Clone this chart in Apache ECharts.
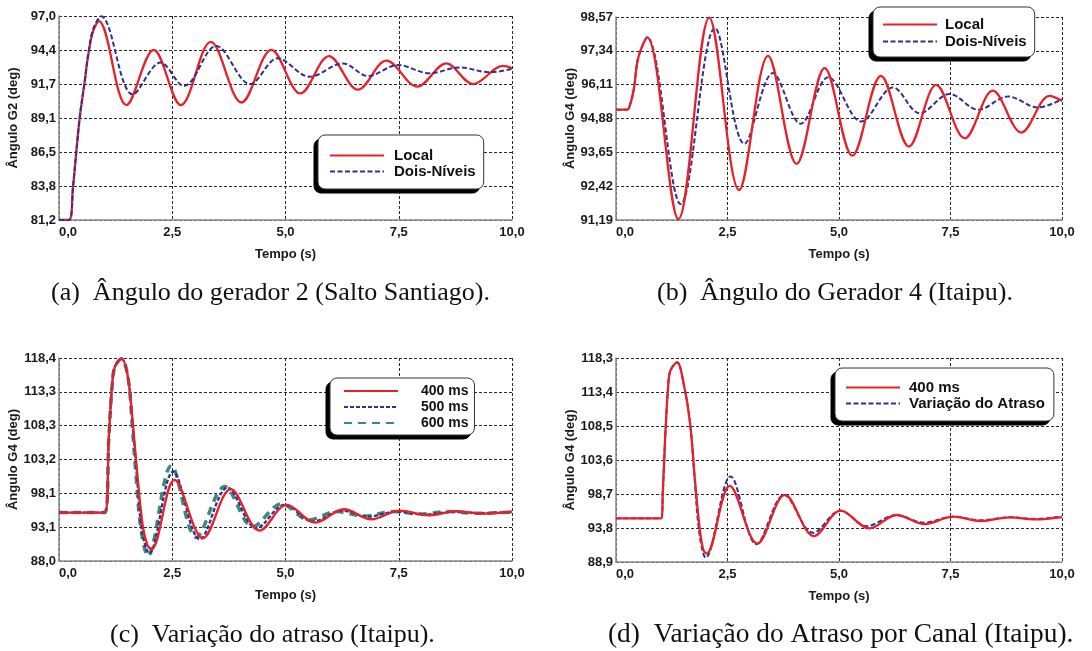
<!DOCTYPE html>
<html>
<head>
<meta charset="utf-8">
<script src="https://cdn.jsdelivr.net/npm/echarts@6/dist/echarts.min.js"></script>
<style>
  html, body { margin: 0; padding: 0; background: #ffffff; }
  #chart { width: 1092px; height: 651px; }
</style>
</head>
<body>
<div id="chart"></div>
<script>
// Time axis (s)
const timeMin = 0, timeMax = 10, timeStep = 2.5;

// Y-axis ranges: [min, max, decimals] per panel
const yRangeA = [81.2, 97.0, 1];
const yRangeB = [91.19, 98.57, 2];
const yRangeC = [88.0, 118.4, 1];
const yRangeD = [88.9, 118.3, 1];

// (a) Generator 2 angle — [t, deg]
const localA = [[0,81.2],[0.22,81.2],[0.31,83.8],[0.38,86.4],[0.46,89.2],[0.57,92.0],[0.64,93.85],[0.75,95.8],[0.88,96.6],[1.49,90.1],[2.09,94.37],[2.69,90.1],[3.35,95.0],[4.03,90.3],[4.69,94.37],[5.33,91.0],[5.96,93.9],[6.6,91.3],[7.23,93.54],[7.91,91.53],[8.55,93.33],[9.14,91.73],[9.8,93.13],[10,92.95]];
const doisNiveisA = [[0,81.2],[0.22,81.2],[0.31,83.8],[0.38,86.4],[0.46,89.2],[0.57,92.0],[0.64,93.9],[0.75,95.95],[0.93,96.98],[1.63,90.93],[2.24,93.39],[2.76,91.58],[3.47,94.68],[4.22,91.73],[4.83,93.72],[5.53,92.3],[6.27,93.33],[6.82,92.35],[7.48,93.2],[8.18,92.56],[8.84,93.02],[9.51,92.64],[10,92.9]];

// (b) Generator 4 angle
const localB = [[0,95.2],[0.24,95.2],[0.3,95.3],[0.4,95.95],[0.5,97.1],[0.7,97.83],[1.4,91.22],[2.09,98.55],[2.76,92.28],[3.41,97.16],[4.05,93.23],[4.68,96.71],[5.3,93.53],[5.94,96.43],[6.57,93.86],[7.18,96.1],[7.82,94.16],[8.45,95.89],[9.09,94.37],[9.72,95.7],[10,95.52]];
const doisNiveisB = [[0,95.2],[0.24,95.2],[0.3,95.3],[0.4,95.95],[0.5,97.1],[0.7,97.83],[1.45,91.77],[2.22,98.17],[2.88,93.96],[3.52,96.53],[4.14,94.69],[4.76,96.38],[5.5,94.77],[6.21,96.01],[6.81,95.07],[7.48,95.77],[8.12,95.2],[8.79,95.68],[9.46,95.28],[10,95.58]];

// (c) Delay variation
const delay400C = [[0,95.25],[1.01,95.25],[1.1,106.5],[1.17,114.0],[1.23,117.0],[1.38,118.3],[1.52,115.6],[1.63,108.6],[1.74,100.2],[1.85,93.2],[1.95,90.4],[2.04,89.75],[2.55,100.15],[3.18,91.4],[3.79,98.75],[4.43,92.55],[5.03,96.4],[5.66,93.75],[6.29,95.75],[6.89,94.25],[7.52,95.55],[8.15,94.85],[8.77,95.45],[9.36,95.1],[10,95.4]];
const delay500C = [[0,95.25],[1.01,95.25],[1.1,106.5],[1.17,114.0],[1.23,117.0],[1.38,118.3],[1.52,115.6],[1.62,108.8],[1.72,100.6],[1.83,92.6],[1.99,89.15],[2.52,101.4],[3.11,91.25],[3.72,99.0],[4.36,92.9],[4.98,96.4],[5.61,93.9],[6.23,95.55],[6.82,94.65],[7.45,95.4],[8.07,94.95],[8.7,95.35],[9.32,95.15],[10,95.35]];
const delay600C = [[0,95.25],[1.01,95.25],[1.1,106.5],[1.17,114.0],[1.23,117.0],[1.38,118.3],[1.52,115.6],[1.61,109.0],[1.7,100.8],[1.81,92.8],[1.96,88.75],[2.48,102.25],[3.03,91.55],[3.66,99.15],[4.28,93.15],[4.91,96.55],[5.52,94.15],[6.12,95.4],[6.75,94.75],[7.37,95.4],[8.0,95.05],[8.59,95.4],[9.2,95.15],[10,95.3]];

// (d) Per-channel delay variation
const delay400D = [[0,95.19],[1.01,95.19],[1.05,99.0],[1.1,106.5],[1.17,114.3],[1.22,116.5],[1.37,117.67],[1.52,114.5],[1.66,109.0],[1.77,100.7],[1.88,93.5],[1.96,90.6],[2.03,90.11],[2.55,99.88],[3.17,91.56],[3.79,98.57],[4.44,92.62],[5.04,96.3],[5.68,93.74],[6.29,95.67],[6.92,94.36],[7.56,95.43],[8.19,94.8],[8.83,95.33],[9.39,95.04],[10,95.38]];
const variacaoD = [[0,95.19],[1.01,95.19],[1.05,99.0],[1.1,106.5],[1.17,114.3],[1.22,116.5],[1.37,117.67],[1.52,114.5],[1.66,109.0],[1.76,101.2],[1.87,93.0],[2.01,89.53],[2.57,101.23],[3.15,91.46],[3.77,98.57],[4.42,93.1],[5.03,96.3],[5.62,94.07],[6.28,95.67],[6.9,94.56],[7.55,95.43],[8.2,94.9],[8.83,95.35],[9.4,95.1],[10,95.45]];

// Sub-figure captions
const captions = [
  '(a)\u2002Ângulo do gerador 2 (Salto Santiago).',
  '(b)\u2002Ângulo do Gerador 4 (Itaipu).',
  '(c)\u2002Variação do atraso (Itaipu).',
  '(d)\u2002Variação do Atraso por Canal (Itaipu).'
];

const RED = '#e8202a', NAVY = '#2e3192', TEAL = '#3a8c7a';
const SANS = 'Liberation Sans';
const comma = (v, d) => v.toFixed(d).replace('.', ',');

const grids = [
  { left: 59, top: 16, width: 453, height: 204 },
  { left: 616, top: 17, width: 446, height: 203 },
  { left: 59, top: 358, width: 453, height: 203 },
  { left: 616, top: 358, width: 446, height: 204 }
];

const splitStyle = { show: true, lineStyle: { color: '#2a2a2a', type: [3, 2], width: 1 } };
const axisLineStyle = { show: true, lineStyle: { color: '#8c8c8c', width: 1.6 } };
const tickFont = { fontFamily: SANS, fontWeight: 'bold', fontSize: 13, color: '#1a1a1a' };

const xAxes = grids.map((g, i) => ({
  type: 'value', gridIndex: i, min: timeMin, max: timeMax, interval: timeStep,
  name: 'Tempo (s)', nameLocation: 'middle', nameGap: 28,
  nameTextStyle: { fontFamily: SANS, fontWeight: 'bold', fontSize: 13, color: '#1a1a1a' },
  axisLine: axisLineStyle, axisTick: { show: false },
  axisLabel: Object.assign({ margin: 6, alignMinLabel: 'left', formatter: v => comma(v, 1) }, tickFont),
  splitLine: splitStyle
}));

const yRanges = [yRangeA, yRangeB, yRangeC, yRangeD];
const yNames = ['Ângulo G2 (deg)', 'Ângulo G4 (deg)', 'Ângulo G4 (deg)', 'Ângulo G4 (deg)'];
const yAxes = yRanges.map((r, i) => ({
  type: 'value', gridIndex: i, min: r[0], max: r[1], interval: (r[1] - r[0]) / 6 + 1e-9,
  name: yNames[i], nameLocation: 'middle', nameGap: 39,
  nameTextStyle: { fontFamily: SANS, fontWeight: 'bold', fontSize: 13, color: '#1a1a1a' },
  axisLine: axisLineStyle, axisTick: { show: false },
  axisLabel: Object.assign({ margin: 3, formatter: v => comma(v, r[2]) }, tickFont),
  splitLine: splitStyle
}));

function line(name, data, idx, color, width, type, z) {
  return {
    type: 'line', name, data, xAxisIndex: idx, yAxisIndex: idx,
    smooth: 0.35, symbol: 'none', showSymbol: false, z: z || 2,
    lineStyle: { color, width, type: type || 'solid' },
    itemStyle: { color }
  };
}

const series = [
  line('Local', localA, 0, RED, 2.3),
  line('Dois-Níveis', doisNiveisA, 0, NAVY, 2, [5, 2.5], 3),
  line('Dois-Níveis', doisNiveisB, 1, NAVY, 2, [5, 2.5], 2),
  line('Local', localB, 1, RED, 2.3, 'solid', 3),
  line('600 ms', delay600C, 2, TEAL, 3.5, [8, 6], 2),
  line('500 ms', delay500C, 2, NAVY, 2.3, [4, 2], 3),
  line('400 ms', delay400C, 2, RED, 2.3, 'solid', 4),
  line('Variação do Atraso', variacaoD, 3, NAVY, 2, [5, 2.5], 2),
  line('400 ms', delay400D, 3, RED, 2.3, 'solid', 3)
];

// Legend boxes: the white bordered box, plus a black copy offset down-left as a hard shadow
const legendSpecs = [
  { left: 318, top: 135, names: ['Local', 'Dois-Níveis'], pad: [13, 8, 10, 11], gap: 1, fontSize: 15, textGap: 5 },
  { left: 873, top: 7, names: ['Local', 'Dois-Níveis'], pad: [10, 8, 8, 9], gap: 2, fontSize: 15, textGap: 3 },
  { left: 330, top: 378, names: ['400 ms', '500 ms', '600 ms'], pad: [6, 6, 5, 13], gap: 2, fontSize: 14, textGap: 18 },
  { left: 835, top: 368, names: ['400 ms', 'Variação do Atraso'], pad: [12, 9, 10, 10], gap: 1, fontSize: 15, textGap: 4 }
];

function legendBox(s, isShadow) {
  return {
    orient: 'vertical',
    left: s.left + (isShadow ? -4 : 0),
    top: s.top + (isShadow ? 4 : 0),
    data: s.names,
    z: isShadow ? 9 : 10,
    itemWidth: 54, itemHeight: 12, itemGap: s.gap, padding: s.pad,
    itemStyle: { opacity: 0, borderWidth: 0 },
    lineStyle: isShadow ? { opacity: 0 } : {},
    textStyle: {
      fontFamily: SANS, fontWeight: 'bold', fontSize: s.fontSize,
      color: isShadow ? '#000' : '#111', padding: [0, 0, 0, s.textGap]
    },
    backgroundColor: isShadow ? '#000' : '#ffffff',
    borderColor: isShadow ? '#000' : '#333', borderWidth: 1, borderRadius: 7,
    selectedMode: false
  };
}

const legends = [];
legendSpecs.forEach(s => { legends.push(legendBox(s, true)); legends.push(legendBox(s, false)); });

const captionStyle = [
  [51, 293, 26], [657, 293, 26], [110, 635, 26], [608, 635, 27.4]
];
const graphic = captions.map((t, i) => ({
  type: 'text', x: captionStyle[i][0], y: captionStyle[i][1],
  style: { text: t, font: captionStyle[i][2] + 'px "Liberation Serif"', fill: '#111', verticalAlign: 'middle', align: 'left' }
}));

const chart = echarts.init(document.getElementById('chart'), null, { renderer: 'canvas' });
chart.setOption({
  animation: false,
  backgroundColor: '#ffffff',
  grid: grids,
  xAxis: xAxes,
  yAxis: yAxes,
  legend: legends,
  series,
  graphic
});
</script>
</body>
</html>
